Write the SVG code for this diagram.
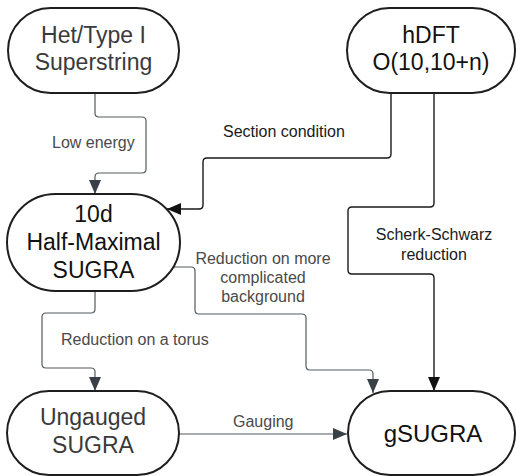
<svg xmlns="http://www.w3.org/2000/svg" width="516" height="476" viewBox="0 0 516 476">
  <style>
    .node { fill: #ffffff; stroke: #1e1e1e; stroke-width: 2; }
    .ntext { font-family: "Liberation Sans", Arial, sans-serif; font-size: 23px; text-anchor: middle; fill: #111111; }
    .ntext.soft { fill: #3a3a3a; }
    .edge { fill: none; stroke: #555a60; stroke-width: 1.2; }
    .edge.dark { stroke: #1a1a1a; stroke-width: 1.4; }
    .label { font-family: "Liberation Sans", Arial, sans-serif; font-size: 16px; fill: #4a4a4a; }
    .label.dark { fill: #1a1a1a; }
  </style>
  <defs>
    <marker id="arrow" markerUnits="userSpaceOnUse" markerWidth="16" markerHeight="14" refX="14" refY="6" orient="auto">
      <path d="M0,0 L14,6 L0,12 Z" fill="#3a4048"/>
    </marker>
    <marker id="arrowDark" markerUnits="userSpaceOnUse" markerWidth="16" markerHeight="14" refX="14" refY="6" orient="auto">
      <path d="M0,0 L14,6 L0,12 Z" fill="#111111"/>
    </marker>
  </defs>

  <rect width="516" height="476" fill="#ffffff"/>

  <!-- connectors -->
  <g id="connectors">
    <path class="edge" marker-end="url(#arrow)" d="M95,93 V113 Q95,117 99,117 H142 Q146,117 146,121 V169 Q146,173 142,173 H99 Q95,173 95,177 V194"/>
    <path class="edge dark" marker-end="url(#arrowDark)" d="M391,93 V154 Q391,158 387,158 H207 Q203,158 203,162 V205 Q203,209 199,209 H167"/>
    <path class="edge dark" marker-end="url(#arrowDark)" d="M434,93 V203 Q434,207 430,207 H352 Q348,207 348,211 V270 Q348,274 352,274 H430 Q434,274 434,278 V391"/>
    <path class="edge" marker-end="url(#arrow)" d="M173,267 H191 Q195,267 195,271 V310 Q195,314 199,314 H302 Q306,314 306,318 V366 Q306,370 310,370 H369 Q373,370 373,374 V393"/>
    <path class="edge" marker-end="url(#arrow)" d="M95,291 V309 Q95,313 91,313 H46 Q42,313 42,317 V364 Q42,368 46,368 H91 Q95,368 95,372 V391"/>
    <path class="edge" marker-end="url(#arrow)" d="M179,434 H347"/>

    <text class="label" x="52" y="148">Low energy</text>
    <text class="label dark" x="223" y="137">Section condition</text>
    <text class="label dark" text-anchor="middle" x="434" y="240">Scherk-Schwarz</text>
    <text class="label dark" text-anchor="middle" x="434" y="260">reduction</text>
    <text class="label" text-anchor="middle" x="263" y="264">Reduction on more</text>
    <text class="label" text-anchor="middle" x="263" y="283">complicated</text>
    <text class="label" text-anchor="middle" x="263" y="302">background</text>
    <text class="label" x="61" y="345">Reduction on a torus</text>
    <text class="label" x="233" y="427">Gauging</text>
  </g>

  <!-- nodes -->
  <g id="het">
    <rect class="node" x="8" y="8" width="171" height="85" rx="42.5"/>
    <text class="ntext soft" x="93.5" y="43">Het/Type I</text>
    <text class="ntext soft" x="93.5" y="70">Superstring</text>
  </g>
  <g id="hdft">
    <rect class="node" x="347" y="8" width="168" height="85" rx="42.5"/>
    <text class="ntext" x="431" y="43">hDFT</text>
    <text class="ntext" x="431" y="70">O(10,10+n)</text>
  </g>
  <g id="sugra10d">
    <rect class="node" x="7" y="194" width="173" height="97" rx="48.5"/>
    <text class="ntext" x="93.5" y="222">10d</text>
    <text class="ntext" x="93.5" y="250">Half-Maximal</text>
    <text class="ntext" x="93.5" y="278">SUGRA</text>
  </g>
  <g id="ungauged">
    <rect class="node" x="7" y="391" width="172" height="84" rx="42"/>
    <text class="ntext soft" x="93" y="425">Ungauged</text>
    <text class="ntext soft" x="93" y="453">SUGRA</text>
  </g>
  <g id="gsugra">
    <rect class="node" x="348" y="391" width="167" height="84" rx="42"/>
    <text class="ntext" x="433" y="442" style="font-size:24px">gSUGRA</text>
  </g>
</svg>
